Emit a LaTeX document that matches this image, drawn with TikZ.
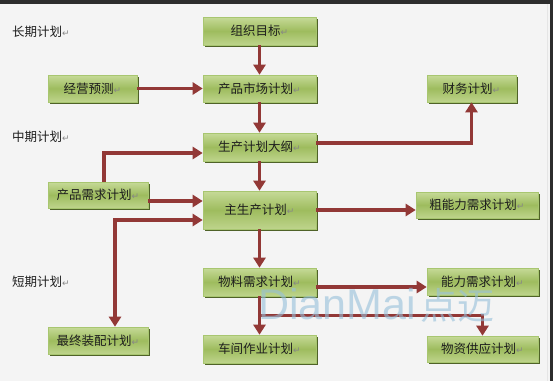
\documentclass[tikz,border=0pt]{standalone}
\usepackage{fontspec}
\setmainfont{Liberation Sans}
\newfontfamily\cjk{Noto Sans CJK SC}
\newfontfamily\dvs{DejaVu Sans}
\usetikzlibrary{arrows.meta,shadows,calc}
\definecolor{bg}{RGB}{244,244,244}
\definecolor{barc}{RGB}{45,45,45}
\definecolor{gtop}{RGB}{198,218,152}
\definecolor{gmid}{RGB}{158,188,94}
\definecolor{gbot}{RGB}{190,212,140}
\definecolor{boxline}{RGB}{168,198,112}
\definecolor{shadowc}{RGB}{79,98,40}
\definecolor{arrc}{RGB}{146,56,54}
\definecolor{txt}{RGB}{30,30,30}
\definecolor{retgray}{RGB}{135,135,135}
\definecolor{wm}{RGB}{150,192,218}
\newcommand{\retmark}{{\dvs\fontsize{9}{9}\selectfont\color{retgray}↵}}
\tikzset{
  box/.style={rectangle, draw=boxline, line width=0.6pt,
    top color=gtop, bottom color=gbot, middle color=gmid,
    drop shadow={shadow xshift=1.5pt, shadow yshift=-2pt, fill=shadowc, opacity=1},
    inner sep=0pt, font=\cjk\fontsize{12.5}{14}\selectfont, text=txt},
  lbl/.style={anchor=west, inner sep=0pt, font=\cjk\fontsize{12.5}{14}\selectfont, text=txt},
  arr/.style={draw=arrc, line width=3.8pt, line join=miter,
    -{Triangle[length=10pt,width=12pt]}},
  arrb/.style={draw=arrc, line width=3.8pt, line join=miter,
    {Triangle[length=10pt,width=12pt]}-{Triangle[length=10pt,width=12pt]}}
}
\begin{document}
\begin{tikzpicture}[x=1pt,y=-1pt]
\useasboundingbox (0,0) rectangle (553,381);
\fill[bg] (0,0) rectangle (553,381);
\fill[barc] (0,0) rectangle (553,4.3);
\fill[barc] (550,0) rectangle (553,381);
\draw[white!80!gray, line width=0.5pt] (547,4.3) -- (547,381);

% level labels
\node[lbl] (l1) at (12,32) {长期计划\retmark};
\node[lbl] (l2) at (12,137) {中期计划\retmark};
\node[lbl] (l3) at (12,282) {短期计划\retmark};

% boxes
\node[box, minimum width=113pt, minimum height=28pt] (org) at (259.5,31) {组织目标\retmark};
\node[box, minimum width=89pt, minimum height=27pt] (fc) at (92.5,88.5) {经营预测\retmark};
\node[box, minimum width=113pt, minimum height=27pt] (pm) at (259.5,88.5) {产品市场计划\retmark};
\node[box, minimum width=89pt, minimum height=27pt] (fin) at (471.5,88.5) {财务计划\retmark};
\node[box, minimum width=113pt, minimum height=28pt] (pp) at (259.5,147) {生产计划大纲\retmark};
\node[box, minimum width=100pt, minimum height=26pt] (pd) at (98,195) {产品需求计划\retmark};
\node[box, minimum width=113pt, minimum height=38pt] (mps) at (259.5,210) {主生产计划\retmark};
\node[box, minimum width=122pt, minimum height=26pt] (rc) at (477,205) {粗能力需求计划\retmark};
\node[box, minimum width=100pt, minimum height=27pt] (fa) at (98,340.5) {最终装配计划\retmark};
\node[box, minimum width=113pt, minimum height=28pt] (mrp) at (259.5,282) {物料需求计划\retmark};
\node[box, minimum width=111pt, minimum height=27pt] (crp) at (482.5,281.5) {能力需求计划\retmark};
\node[box, minimum width=113pt, minimum height=28pt] (sfc) at (259.5,349) {车间作业计划\retmark};
\node[box, minimum width=111pt, minimum height=26pt] (ms) at (482.5,349) {物资供应计划\retmark};

% connectors
\draw[arr] (org.south) -- (pm.north);
\draw[arr] (fc.east) -- (pm.west);
\draw[arr] (pm.south) -- (pp.north);
\draw[arr] ([yshift=4pt]pp.east) -| (fin.south);
\draw[arr] ([xshift=6pt]pd.north) |- ([yshift=-6pt]pp.west);
\draw[arr] (pp.south) -- (mps.north);
\draw[arr] ([yshift=-6pt]pd.east) -- ([yshift=-6pt]pd.east -| mps.west);
\draw[arrb] ([xshift=17pt]fa.north) |- ([yshift=-10pt]mps.west);
\draw[arr] (mps.east) -- (mps.east -| rc.west);
\draw[arr] (mps.south) -- (mrp.north);
\draw[arr] ([yshift=-5pt]mrp.east) -- ([yshift=-5pt]mrp.east -| crp.west);
\draw[arr] (mrp.south) -- (sfc.north);
\coordinate (br) at ($(mrp.south)!0.5!(sfc.north)$);
\draw[arr] (br) -| (ms.north);

% watermark
\node[anchor=base west, inner sep=0pt, text=wm, opacity=0.6,
  font=\fontsize{43}{43}\selectfont] (wmk) at (258,319)
  {DianMai\hspace{5pt}{\cjk\fontsize{37}{37}\selectfont 点迈}};
\end{tikzpicture}
\end{document}
